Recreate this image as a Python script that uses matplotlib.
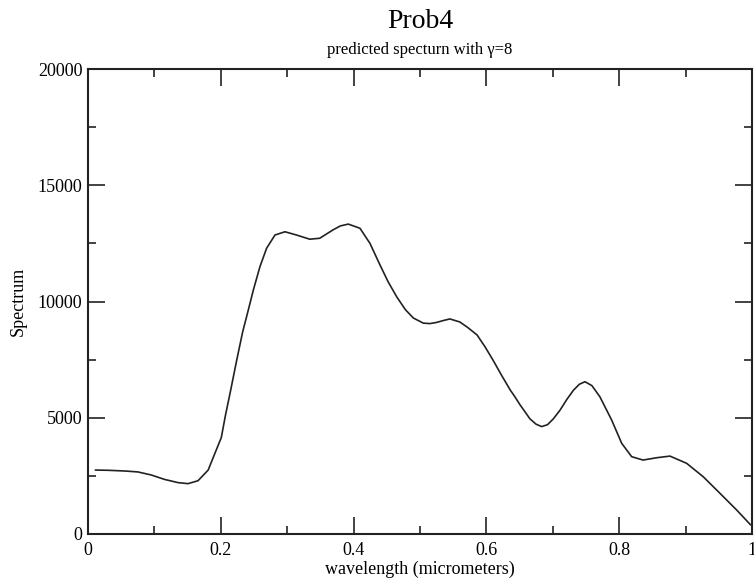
import matplotlib
matplotlib.use('Agg')
import matplotlib.pyplot as plt
from matplotlib.ticker import MultipleLocator, FuncFormatter

plt.rcParams['font.family'] = ['Liberation Serif', 'DejaVu Serif']

# Values
wavelength = [0.011, 0.030, 0.055, 0.075, 0.095, 0.115, 0.1355, 0.1506, 0.1657, 0.181,
              0.193, 0.2008, 0.207, 0.214, 0.224, 0.233, 0.2414, 0.249, 0.259, 0.269,
              0.2816, 0.2967, 0.314, 0.334, 0.349, 0.369, 0.38, 0.392, 0.4096, 0.4247,
              0.4398, 0.452, 0.465, 0.478, 0.49, 0.505, 0.515, 0.525, 0.535, 0.545,
              0.56, 0.572, 0.586, 0.598, 0.61, 0.623, 0.636, 0.643, 0.6506, 0.6657,
              0.675, 0.6833, 0.692, 0.7008, 0.711, 0.721, 0.731, 0.74, 0.7485, 0.759,
              0.771, 0.7887, 0.8038, 0.8188, 0.836, 0.8565, 0.8765, 0.9016, 0.9267, 0.9518,
              0.977, 0.998]
spectrum = [2750, 2740, 2710, 2670, 2540, 2350, 2210, 2165, 2290, 2750,
            3600, 4150, 5100, 6060, 7480, 8700, 9630, 10490, 11500, 12290,
            12860, 13000, 12860, 12680, 12720, 13080, 13250, 13330, 13150, 12500,
            11570, 10850, 10200, 9650, 9290, 9070, 9050, 9100, 9180, 9250,
            9120, 8880, 8560, 8050, 7480, 6820, 6190, 5900, 5560, 4950,
            4720, 4620, 4700, 4950, 5330, 5780, 6180, 6440, 6550, 6380,
            5900, 4900, 3900, 3325, 3180, 3280, 3350, 3040, 2460, 1750,
            1030, 390]

fig = plt.figure(figsize=(7.54, 5.82), dpi=100)
ax = fig.add_axes([0.1167, 0.0825, 0.8806, 0.7989])

ax.plot(wavelength, spectrum, color='#222222', linewidth=1.2,
        solid_joinstyle='round', solid_capstyle='round')

ax.set_xlim(0, 1)
ax.set_ylim(0, 20000)
ax.xaxis.set_major_locator(MultipleLocator(0.2))
ax.xaxis.set_minor_locator(MultipleLocator(0.1))
ax.yaxis.set_major_locator(MultipleLocator(5000))
ax.yaxis.set_minor_locator(MultipleLocator(2500))
ax.xaxis.set_major_formatter(FuncFormatter(lambda v, p: '%g' % round(v, 3)))

ax.tick_params(which='both', direction='in', top=True, right=True,
               labelsize=13, width=1.2, color='#222222')
ax.tick_params(which='major', length=12, pad=4)
ax.tick_params(which='minor', length=6)
ax.tick_params(axis='x', pad=6)
for s in ax.spines.values():
    s.set_linewidth(1.5)
    s.set_color('#222222')

ax.set_xlabel('wavelength (micrometers)', fontsize=13, labelpad=1)
ax.set_ylabel('Spectrum', fontsize=13, labelpad=8)

fig.text(0.557, 0.952, 'Prob4', ha='center', va='baseline', fontsize=20)
fig.text(0.557, 0.907, 'predicted specturn with γ=8', ha='center', va='baseline', fontsize=12)

fig.savefig('out.png', dpi=100)
